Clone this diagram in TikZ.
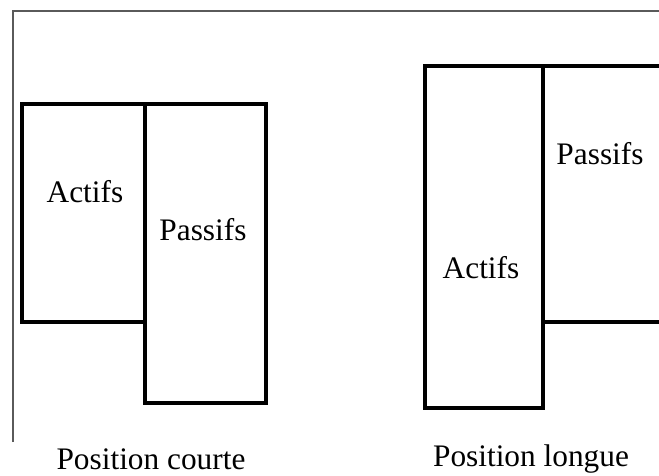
\documentclass[tikz,border=0pt]{standalone}
\usepackage{fontspec}
\setmainfont{Liberation Serif}

\tikzset{every picture/.style={line width=0.75pt}}
\tikzset{
  bloc/.style={draw=black, line width=2.4pt},
  cadre/.style={draw={rgb, 255:red, 90; green, 90; blue, 90 }, line width=1.2pt},
  etiq/.style={font=\fontsize{23.5}{28}\selectfont, inner sep=0pt}
}

\begin{document}
\begin{tikzpicture}[x=0.75pt,y=0.75pt,yscale=-1,xscale=1]
\useasboundingbox (0,0) rectangle (659,475);
\clip (0,0) rectangle (659,475);

%Frame
\draw [cadre] (13,442) -- (13,11) -- (670,11) ;

%Shape: Rectangle [id:actifs_courte] 
\draw [bloc] (22,104) rectangle (145,322) ;
%Shape: Rectangle [id:passifs_courte] 
\draw [bloc] (145,104) rectangle (266,403) ;
%Shape: Rectangle [id:actifs_longue] 
\draw [bloc] (425,66) rectangle (543,408) ;
%Shape: Rectangle [id:passifs_longue] 
\draw [bloc] (543,66) rectangle (680,322) ;

% Text Node
\node [etiq] (actC) at (85,192) {Actifs};
% Text Node
\node [etiq] (pasC) at (203,230) {Passifs};
% Text Node
\node [etiq] (actL) at (481,268) {Actifs};
% Text Node
\node [etiq] (pasL) at (600,154) {Passifs};
% Text Node
\node [etiq] (posC) at (151,459) {Position courte};
% Text Node
\node [etiq] (posL) at (531,459) {Position longue};

\end{tikzpicture}
\end{document}
